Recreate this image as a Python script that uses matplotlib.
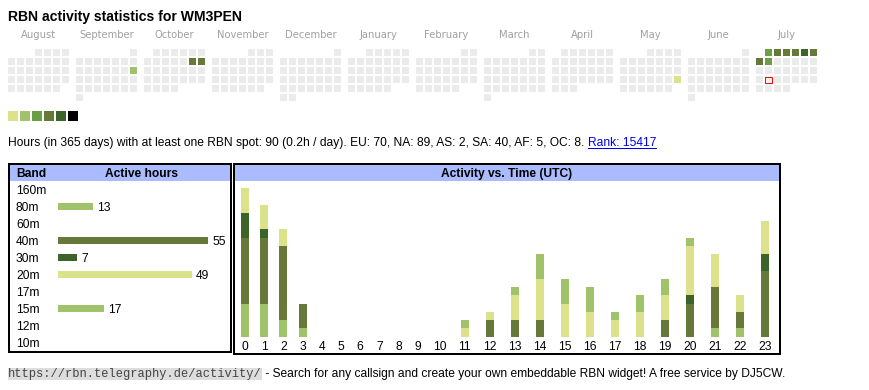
import datetime as dt
import matplotlib
matplotlib.use('Agg')
import matplotlib.pyplot as plt
from matplotlib.patches import Rectangle
import numpy as np

plt.rcParams['font.family'] = ['Liberation Sans', 'DejaVu Sans']

W, H = 870, 390
PT = 0.72  # points per pixel at dpi 100

# ---- data -------------------------------------------------------------
callsign = 'WM3PEN'
months = ['August', 'September', 'October', 'November', 'December', 'January',
          'February', 'March', 'April', 'May', 'June', 'July']
start_year, start_month = 2024, 8
today = dt.date(2025, 7, 22)

# days with at least one spot and their colour level (1..6)
active_days = [dt.date(2024, 9, 15), dt.date(2024, 10, 12), dt.date(2024, 10, 13),
               dt.date(2025, 5, 25), dt.date(2025, 7, 1), dt.date(2025, 7, 2),
               dt.date(2025, 7, 3), dt.date(2025, 7, 4), dt.date(2025, 7, 5),
               dt.date(2025, 7, 6), dt.date(2025, 7, 7), dt.date(2025, 7, 8)]
active_levels = [2, 4, 4, 1, 3, 4, 4, 4, 5, 4, 4, 3]
level_colors = ['#dbe28b', '#9fc26b', '#6a9f46', '#66793b', '#3c6428', '#000000']

total_hours = 90
hours_per_day = 0.2
continents = ['EU', 'NA', 'AS', 'SA', 'AF', 'OC']
continent_hours = [70, 89, 2, 40, 5, 8]
rank = 15417

bands = ['160m', '80m', '60m', '40m', '30m', '20m', '17m', '15m', '12m', '10m']
band_hours = [0, 13, 0, 55, 7, 49, 0, 17, 0, 0]
band_colors = {'80m': '#9fc26b', '40m': '#66793b', '30m': '#3c6428',
               '20m': '#dbe28b', '15m': '#9fc26b'}

utc_hours = [str(h) for h in range(24)]
act_80m = [4, 4, 2, 1, 0, 0, 0, 0, 0, 0, 0, 0, 0, 0, 0, 0, 0, 0, 0, 0, 0, 1, 1, 0]
act_40m = [8, 8, 9, 3, 0, 0, 0, 0, 0, 0, 0, 0, 2, 2, 2, 0, 0, 0, 0, 2, 4, 5, 2, 8]
act_30m = [3, 1, 0, 0, 0, 0, 0, 0, 0, 0, 0, 0, 0, 0, 0, 0, 0, 0, 0, 0, 1, 0, 0, 2]
act_20m = [3, 3, 2, 0, 0, 0, 0, 0, 0, 0, 0, 1, 1, 3, 5, 4, 3, 2, 3, 3, 6, 4, 2, 4]
act_15m = [0, 0, 0, 0, 0, 0, 0, 0, 0, 0, 0, 1, 0, 1, 3, 3, 3, 1, 2, 2, 1, 0, 0, 0]
activity = [('80m', act_80m), ('40m', act_40m), ('30m', act_30m),
            ('20m', act_20m), ('15m', act_15m)]

url = 'https://rbn.telegraphy.de/activity/'
footer = ' - Search for any callsign and create your own embeddable RBN widget! A free service by DJ5CW.'

GRAY_CELL = '#ebebeb'
HEAD_BG = '#aabbff'
FS = 12 * PT


def fig_box(left, top, width, height):
    return [left / W, 1 - (top + height) / H, width / W, height / H]


fig = plt.figure(figsize=(W / 100, H / 100), dpi=100)
ax = fig.add_axes([0, 0, 1, 1])
ax.set_xlim(0, W)
ax.set_ylim(H, 0)
ax.axis('off')
renderer = fig.canvas.get_renderer()


def right_edge(t):
    return t.get_window_extent(renderer).x1


# title
ax.text(8, 20.5, f'RBN activity statistics for {callsign}', fontsize=14 * PT,
        fontweight='bold', va='baseline')

# ---- calendar -----------------------------------------------------------
levels = dict(zip(active_days, active_levels))
y, m = start_year, start_month
for i, name in enumerate(months):
    first = dt.date(y, m, 1)
    y, m = (y + 1, 1) if m == 12 else (y, m + 1)
    ndays = (dt.date(y, m, 1) - first).days
    x0 = 8 + 68 * i
    ax.text(x0 + 30.5, 38.5, name, fontsize=10 * PT, color='#a0a0a0',
            ha='center', va='baseline', family='DejaVu Sans')
    for d in range(ndays):
        day = first + dt.timedelta(days=d)
        cx = x0 + 9 * day.weekday()
        cy = 49 + 9 * ((d + first.weekday()) // 7)
        lvl = levels.get(day)
        col = level_colors[lvl - 1] if lvl else GRAY_CELL
        ax.add_patch(Rectangle((cx, cy), 7, 7, facecolor=col, lw=0))
        if day == today:
            ax.add_patch(Rectangle((cx + 0.5, cy + 0.5), 6.5, 6.5, facecolor='#f4f4f4',
                                   edgecolor='#ff0000', lw=1 * PT))

# colour legend
for i, c in enumerate(level_colors):
    ax.add_patch(Rectangle((8 + 12 * i, 111), 10, 10, facecolor=c, lw=0))

# summary line
cont = ', '.join(f'{c}: {v}' for c, v in zip(continents, continent_hours))
summary = (f'Hours (in 365 days) with at least one RBN spot: {total_hours} '
           f'({hours_per_day}h / day). {cont}.')
t = ax.text(8, 146, summary, fontsize=FS, va='baseline')
x1 = right_edge(t) + 3.5
t = ax.text(x1, 146, f'Rank: {rank}', fontsize=FS, va='baseline', color='#0000ee')
ax.plot([x1, right_edge(t)], [147.5, 147.5], color='#0000ee', lw=1 * PT)

# ---- boxes ------------------------------------------------------------
ax.add_patch(Rectangle((10, 165.3), 220, 15.4, facecolor=HEAD_BG, lw=0))
ax.add_patch(Rectangle((235.3, 165.3), 543.4, 15.4, facecolor=HEAD_BG, lw=0))
ax.add_patch(Rectangle((9, 164.3), 222, 187.4, fill=False, ec='black', lw=2 * PT))
ax.add_patch(Rectangle((234.3, 164.3), 545.4, 190, fill=False, ec='black', lw=2 * PT))
ax.text(16, 176.7, 'Band', fontsize=FS, fontweight='bold', va='baseline')
ax.text(141.7, 176.7, 'Active hours', fontsize=FS, fontweight='bold', va='baseline',
        ha='center')
ax.text(507, 176.7, 'Activity vs. Time (UTC)', fontsize=FS, fontweight='bold',
        va='baseline', ha='center')

# ---- band table ---------------------------------------------------------
axb = fig.add_axes(fig_box(58, 180.8, 172, 170))
axb.patch.set_visible(False)
ypos = np.arange(len(bands))
axb.barh(ypos, band_hours, height=7 / 17,
         color=[band_colors.get(b, '#cccccc') for b in bands], lw=0)
for yy, v in zip(ypos, band_hours):
    if v:
        axb.annotate(str(v), (v, yy), xytext=(2.9, 0), textcoords='offset points',
                     va='center_baseline', fontsize=FS)
axb.set_xlim(0, 172 / 2.727)
axb.set_ylim(len(bands) - 0.5, -0.5)
axb.set_yticks(ypos, bands)
axb.tick_params(axis='y', length=0, pad=42 * PT, labelsize=FS)
for lbl in axb.get_yticklabels():
    lbl.set_horizontalalignment('left')
axb.set_xticks([])
for s in axb.spines.values():
    s.set_visible(False)

# ---- activity vs time ---------------------------------------------------
axa = fig.add_axes(fig_box(235.3, 180.7, 543.4, 156))
axa.patch.set_visible(False)
col_w = np.array([13.4 + 5.8 * len(h) for h in utc_hours])
centers = np.cumsum(col_w) - col_w / 2
bottom = np.zeros(len(utc_hours))
for band, vals in activity:
    axa.bar(centers, vals, width=8, bottom=bottom, color=band_colors[band], lw=0)
    bottom += np.array(vals)
axa.set_xlim(0, 543.4)
axa.set_ylim(0, 156 / 8.26)
axa.set_xticks(centers, utc_hours)
axa.tick_params(axis='x', length=0, pad=2.8, labelsize=FS)
axa.set_yticks([])
for s in axa.spines.values():
    s.set_visible(False)

# ---- footer -------------------------------------------------------------
t = ax.text(8, 377.3, url, fontsize=FS, family='Liberation Mono', va='baseline',
            color='#444444',
            bbox=dict(boxstyle='square,pad=0', facecolor='#dddddd', lw=0))
ax.text(right_edge(t), 377.3, footer, fontsize=FS, va='baseline')

fig.savefig('out.png', dpi=100)
